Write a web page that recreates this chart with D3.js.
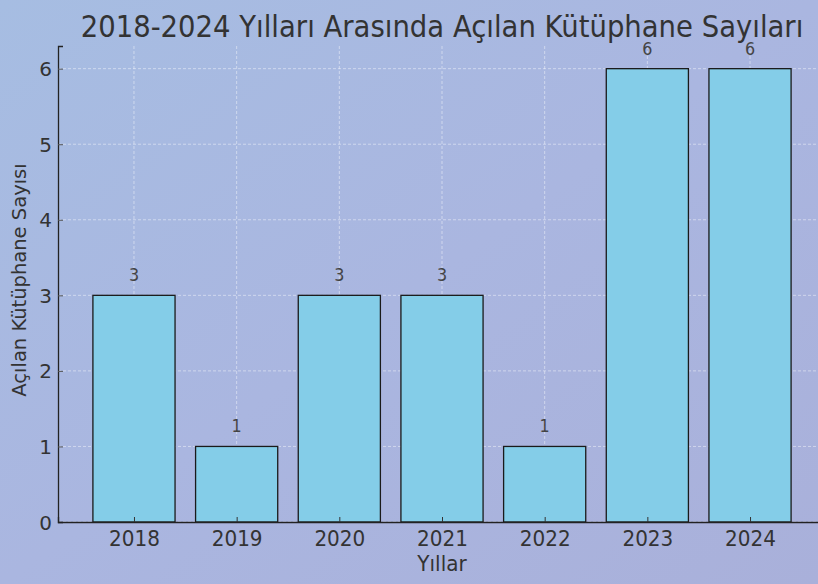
<!DOCTYPE html>
<html><head><meta charset="utf-8">
<script src="https://cdn.jsdelivr.net/npm/d3@7"></script>
<style>body{margin:0;overflow:hidden}svg{display:block}</style>
</head><body>
<script>
const years = ["2018","2019","2020","2021","2022","2023","2024"];
const counts = [3,1,3,3,1,6,6];
const yTicks = [0,1,2,3,4,5,6];
const title = "2018-2024 Yılları Arasında Açılan Kütüphane Sayıları";
const xLabel = "Yıllar";
const yLabel = "Açılan Kütüphane Sayısı";

const W=818,H=584;
const svg=d3.select("body").append("svg").attr("width",W).attr("height",H);
const defs=svg.append("defs");
const g=defs.append("linearGradient").attr("id","bg").attr("x1","0").attr("y1","0").attr("x2","1").attr("y2","1");
g.append("stop").attr("offset","0").attr("stop-color","#a6bde2");
g.append("stop").attr("offset","0.5").attr("stop-color","#aab6e0");
g.append("stop").attr("offset","1").attr("stop-color","#a9b0da");
svg.append("rect").attr("width",W).attr("height",H).attr("fill","url(#bg)");

const L=58,R=826,T=46,B=522;
const x=d3.scaleLinear().domain([-0.74,6.74]).range([L,R]);
const y=d3.scaleLinear().domain([0,6.3]).range([B,T]);
const font="'DejaVu Sans', sans-serif";
const SY=1.07;

// grid
const grid=svg.append("g");
grid.selectAll("line.h").data(yTicks).join("line")
  .attr("x1",L).attr("x2",W).attr("y1",d=>y(d)).attr("y2",d=>y(d))
  .attr("stroke","#ffffff").attr("stroke-opacity",0.45).attr("stroke-dasharray","3,2").attr("stroke-width",1);
grid.selectAll("line.v").data(years).join("line")
  .attr("x1",(d,i)=>x(i)).attr("x2",(d,i)=>x(i)).attr("y1",T).attr("y2",B)
  .attr("stroke","#ffffff").attr("stroke-opacity",0.45).attr("stroke-dasharray","3,2").attr("stroke-width",1);

// bars
const bw=0.8;
svg.append("g").selectAll("rect").data(counts).join("rect")
  .attr("x",(d,i)=>x(i-bw/2)).attr("width",x(bw)-x(0))
  .attr("y",d=>y(d)).attr("height",d=>B-y(d))
  .attr("fill","#84cde8").attr("stroke","#1a1a1a").attr("stroke-width",1.3);

// value labels
svg.append("g").selectAll("text").data(counts).join("text")
  .attr("transform",(d,i)=>`translate(${x(i)},${y(d)-14}) scale(1,${SY})`)
  .attr("text-anchor","middle").attr("font-family",font).attr("font-size",16)
  .attr("fill","#444").text(d=>d);

// axes
const yAxis=svg.append("g").attr("transform",`translate(${L},0)`)
  .call(d3.axisLeft(y).tickValues(yTicks).tickFormat(d3.format("d")).tickSize(-5).tickPadding(6));
yAxis.select(".domain").attr("stroke","#222").attr("stroke-width",1.3);
yAxis.selectAll(".tick line").attr("stroke","#555");
yAxis.selectAll(".tick text").attr("font-family",font).attr("font-size",20).attr("fill","#333")
  .attr("dy",null).attr("dominant-baseline","central");

const xAxis=svg.append("g").attr("transform",`translate(0,${B})`)
  .call(d3.axisBottom(x).tickValues(d3.range(years.length)).tickFormat(i=>years[i]).tickSize(-5).tickPadding(0));
xAxis.select(".domain").attr("stroke","#222").attr("stroke-width",1.3);
xAxis.selectAll(".tick line").attr("stroke","#333");
xAxis.selectAll(".tick text").attr("font-family",font).attr("font-size",20).attr("fill","#333")
  .attr("y",null).attr("dy",null).attr("transform",`translate(0,24) scale(1,${SY})`);

// title and labels
svg.append("text").attr("transform",`translate(442,37) scale(1,${SY})`).attr("text-anchor","middle")
  .attr("font-family",font).attr("font-size",27.5).attr("fill","#333").text(title);
svg.append("text").attr("transform",`translate(442,571) scale(1,${SY})`).attr("text-anchor","middle")
  .attr("font-family",font).attr("font-size",20).attr("fill","#333").text(xLabel);
svg.append("text").attr("transform",`translate(26,280) rotate(-90)`).attr("text-anchor","middle")
  .attr("font-family",font).attr("font-size",19.5).attr("fill","#333").text(yLabel);
</script>
</body></html>
